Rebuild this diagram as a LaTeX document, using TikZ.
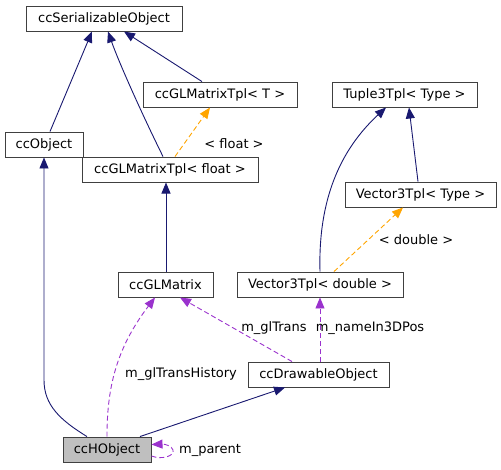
\documentclass[tikz,border=0pt]{standalone}
\usepackage{fontspec}
\setmainfont{DejaVu Sans}
\usetikzlibrary{arrows.meta}
\definecolor{navy}{HTML}{191970}
\definecolor{orng}{HTML}{FFA500}
\definecolor{purp}{HTML}{9A32CD}
\definecolor{bord}{HTML}{404040}
\definecolor{hfill}{HTML}{BFBFBF}
\tikzset{
  cls/.style={draw=bord, line width=0.9pt, fill=white, minimum height=25pt, inner sep=0pt, font=\fontsize{13}{15}\selectfont, anchor=center},
  inh/.style={navy, line width=0.9pt, -{Triangle[length=11pt,width=9pt]}},
  tpl/.style={orng, line width=0.9pt, dash pattern=on 5pt off 3pt, -{Triangle[length=11pt,width=9pt]}},
  use/.style={purp, line width=0.9pt, dash pattern=on 5pt off 3pt, -{Triangle[length=11pt,width=9pt]}},
  lbl/.style={font=\fontsize{13}{15}\selectfont, inner sep=0pt, text=black}
}
\begin{document}
\begin{tikzpicture}[x=1pt,y=-1pt]
\useasboundingbox (0,0) rectangle (501,469);
\node[cls, minimum width=156pt] (ser) at (104,18.5) {ccSerializableObject};
\node[cls, minimum width=78pt] (obj) at (44,144.5) {ccObject};
\node[cls, minimum width=154pt] (tplT) at (220,94.5) {ccGLMatrixTpl< T >};
\node[cls, minimum width=145pt] (tup) at (404.5,94.5) {Tuple3Tpl< Type >};
\node[cls, minimum width=176pt] (tplf) at (170,169.5) {ccGLMatrixTpl< float >};
\node[cls, minimum width=151pt] (vtype) at (420.5,194.5) {Vector3Tpl< Type >};
\node[cls, minimum width=95pt] (glm) at (165.5,284.5) {ccGLMatrix};
\node[cls, minimum width=166pt] (vdbl) at (320,284.5) {Vector3Tpl< double >};
\node[cls, minimum width=141pt] (draw) at (318.5,374.5) {ccDrawableObject};
\node[cls, minimum width=88pt, fill=hfill] (hobj) at (107,449.5) {ccHObject};

% inheritance
\draw[inh] (obj.north -| 50,0) -- (92,31.5);
\draw[inh] (tplf.north -| 163,0) .. controls (140,110) and (118,60) .. (108,31.5);
\draw[inh] (tplT.north -| 202,0) -- (124,31.5);
\draw[inh] (glm.north -| 166,0) -- (166,182.5);
\draw[inh] (vdbl.north -| 320,0) .. controls (318,200) and (340,150) .. (386,107.5);
\draw[inh] (vtype.north -| 418,0) -- (409,107.5);
\draw[inh] (hobj.north -| 87,0) .. controls (60,420) and (44,405) .. (44,380) -- (obj.south -| 44,0);
\draw[inh] (hobj.north -| 140,0) -- (285,387.5);

% template instantiation
\draw[tpl] (tplf.north -| 175,0) -- (210,107.5);
\node[lbl] (lf) at (234,144) {< float >};
\draw[tpl] (vdbl.north -| 334,0) -- (403,207.5);
\node[lbl] (ld) at (416,240) {< double >};

% usage
\draw[use] (hobj.north -| 107,0) .. controls (107,390) and (115,350) .. (155,297.5);
\node[lbl] (lh) at (181,374) {m\_glTransHistory};
\draw[use] (draw.north -| 292,0) -- (180,297.5);
\node[lbl] (lg) at (274,328) {m\_glTrans};
\draw[use] (draw.north -| 320,0) -- (vdbl.south -| 320,0);
\node[lbl] (ln) at (370,328) {m\_nameIn3DPos};
\draw[use] (hobj.east |- 0,456) .. controls (162,460) and (175,456) .. (173,450) .. controls (172,446) and (165,444) .. (151.5,444.5);
\node[lbl] (lp) at (210,450) {m\_parent};
\end{tikzpicture}
\end{document}
